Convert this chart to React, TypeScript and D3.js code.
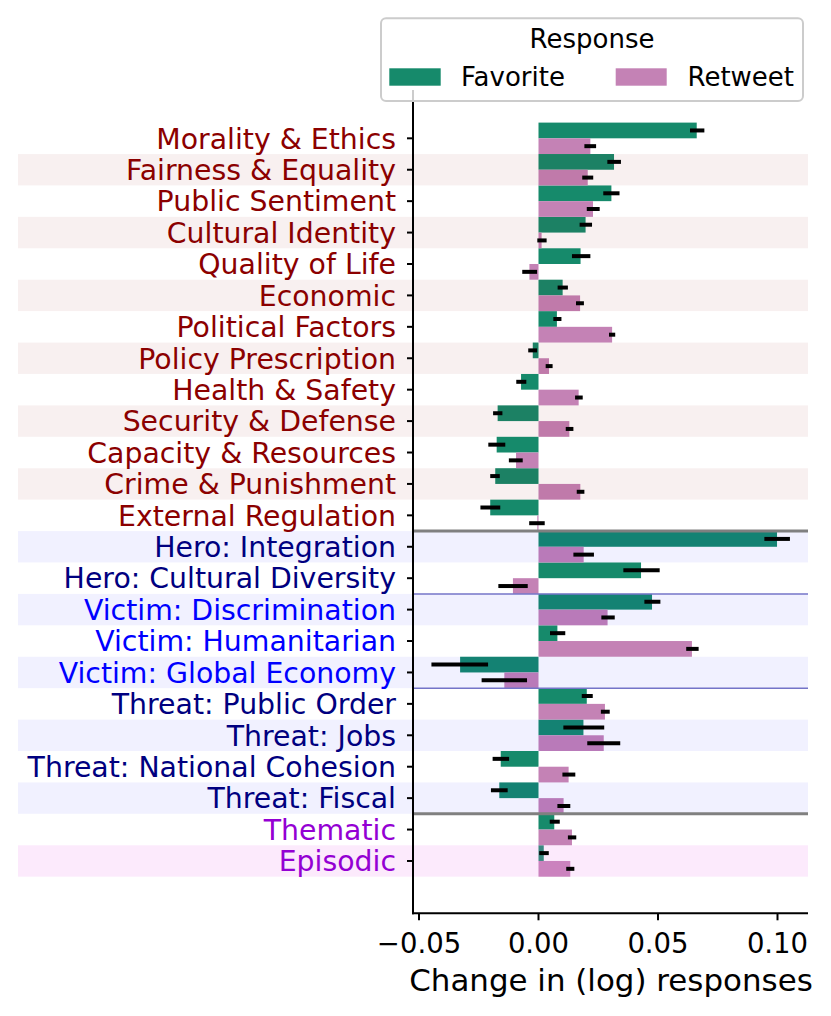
import React from "react";
import * as d3 from "d3";

const categories = [
  "Morality & Ethics", "Fairness & Equality", "Public Sentiment", "Cultural Identity",
  "Quality of Life", "Economic", "Political Factors", "Policy Prescription",
  "Health & Safety", "Security & Defense", "Capacity & Resources", "Crime & Punishment",
  "External Regulation", "Hero: Integration", "Hero: Cultural Diversity",
  "Victim: Discrimination", "Victim: Humanitarian", "Victim: Global Economy",
  "Threat: Public Order", "Threat: Jobs", "Threat: National Cohesion", "Threat: Fiscal",
  "Thematic", "Episodic",
];
const groups = [
  "frame", "frame", "frame", "frame", "frame", "frame", "frame", "frame", "frame", "frame",
  "frame", "frame", "frame", "hero", "hero", "victim", "victim", "victim",
  "threat", "threat", "threat", "threat", "episodic", "episodic",
];
const series = ["Favorite", "Retweet"];

const favorite = [0.0662, 0.0316, 0.0305, 0.0197, 0.0176, 0.0101, 0.0077, -0.0024, -0.0073, -0.0171, -0.0175, -0.0181, -0.0202,
  0.0998, 0.0429, 0.0475, 0.0079, -0.0328, 0.0202, 0.0188, -0.0158, -0.0164, 0.0066, 0.0022];
const favoriteLo = [0.0634, 0.0288, 0.0271, 0.0172, 0.014, 0.008, 0.0062, -0.0043, -0.0093, -0.019, -0.021, -0.0202, -0.0243,
  0.0945, 0.0355, 0.0443, 0.0048, -0.0448, 0.0181, 0.0104, -0.0192, -0.0199, 0.0047, 0.0003];
const favoriteHi = [0.0694, 0.0345, 0.0339, 0.0224, 0.0217, 0.0123, 0.0096, -0.0006, -0.0051, -0.0151, -0.0139, -0.0162, -0.016,
  0.1052, 0.0507, 0.051, 0.0112, -0.0211, 0.0227, 0.0275, -0.0123, -0.0129, 0.0089, 0.0043];
const retweet = [0.0217, 0.0206, 0.0228, 0.0013, -0.0038, 0.0174, 0.0308, 0.0044, 0.0168, 0.0129, -0.0094, 0.0175, -0.0005,
  0.0189, -0.0107, 0.0289, 0.0642, -0.0143, 0.0278, 0.0273, 0.0126, 0.0105, 0.014, 0.0133];
const retweetLo = [0.0192, 0.0183, 0.0202, -0.0005, -0.0068, 0.0157, 0.0295, 0.003, 0.0153, 0.0114, -0.0124, 0.016, -0.0039,
  0.0146, -0.0168, 0.0263, 0.0618, -0.0238, 0.0261, 0.0204, 0.01, 0.0079, 0.0123, 0.0116];
const retweetHi = [0.0241, 0.0229, 0.0256, 0.0034, -0.0006, 0.019, 0.0321, 0.0059, 0.0185, 0.0146, -0.0066, 0.0192, 0.0026,
  0.0232, -0.0045, 0.0319, 0.067, -0.0048, 0.0298, 0.0342, 0.0154, 0.0133, 0.0158, 0.015];
const xTicks = [-0.05, 0, 0.05, 0.1];

const W = 831, H = 1016;
const FONT = "DejaVu Sans";
const plotLeft = 413, plotRight = 808, plotTop = 90, plotBottom = 913.3;
const bandTop = 122.6, rowH = 31.42;
const pxPerUnit = 2390, zeroX = 538.5;

const labelColor: Record<string, string> = {
  frame: "#8b0000", hero: "#000080", victim: "#0000ff", threat: "#000080", episodic: "#9400d3",
};
const bandColor: Record<string, [string, number]> = {
  frame: ["#8b0000", 0.06], hero: ["#0000ff", 0.055], victim: ["#0000ff", 0.055],
  threat: ["#0000ff", 0.055], episodic: ["#ee82ee", 0.17],
};
const seriesColor = ["#168a6b", "#c482b5"];

export default function App() {
  const x = d3.scaleLinear()
    .domain([(plotLeft - zeroX) / pxPerUnit, (plotRight - zeroX) / pxPerUnit])
    .range([plotLeft, plotRight]);
  const y = d3.scaleBand<string>().domain(categories).range([bandTop, bandTop + rowH * categories.length]).padding(0);
  const inner = d3.scaleBand<string>().domain(series).range([0, y.bandwidth()]).padding(0);

  const vals = [favorite, retweet];
  const los = [favoriteLo, retweetLo];
  const his = [favoriteHi, retweetHi];

  const fmt = d3.format(".2f");
  const boundary = (i: number) => (y(categories[i]) as number);

  return (
    <svg width={W} height={H} style={{ position: "absolute", left: 0, top: 0, background: "#fff" }}
      fontFamily={FONT}>
      {/* bars */}
      {series.map((s, si) =>
        categories.map((c, i) => {
          const v = vals[si][i];
          const y0 = (y(c) as number) + (inner(s) as number);
          return (
            <rect key={s + c} x={Math.min(x(0), x(v))} y={y0} width={Math.abs(x(v) - x(0))}
              height={inner.bandwidth()} fill={seriesColor[si]} />
          );
        })
      )}
      {/* shaded bands (drawn over bars, translucent) */}
      {categories.map((c, i) =>
        i % 2 === 1 ? (
          <rect key={"band" + c} x={18} y={y(c)} width={plotRight - 18} height={y.bandwidth()}
            fill={bandColor[groups[i]][0]} fillOpacity={bandColor[groups[i]][1]} />
        ) : null
      )}
      {/* error bars */}
      {series.map((s, si) =>
        categories.map((c, i) => {
          const yc = (y(c) as number) + (inner(s) as number) + inner.bandwidth() / 2;
          return (
            <line key={"err" + s + c} x1={x(los[si][i])} x2={x(his[si][i])} y1={yc} y2={yc}
              stroke="#000" strokeWidth={4} />
          );
        })
      )}
      {/* group separators */}
      <line x1={plotLeft} x2={plotRight} y1={boundary(13)} y2={boundary(13)} stroke="#808080" strokeWidth={3} />
      <line x1={plotLeft} x2={plotRight} y1={boundary(22)} y2={boundary(22)} stroke="#808080" strokeWidth={3} />
      <line x1={plotLeft} x2={plotRight} y1={boundary(15)} y2={boundary(15)} stroke="#7474c8" strokeWidth={1.5} />
      <line x1={plotLeft} x2={plotRight} y1={boundary(18)} y2={boundary(18)} stroke="#7474c8" strokeWidth={1.5} />

      {/* y axis */}
      <line x1={plotLeft} x2={plotLeft} y1={plotTop} y2={plotBottom + 1} stroke="#000" strokeWidth={2} />
      {categories.map((c, i) => {
        const yc = (y(c) as number) + y.bandwidth() / 2;
        return (
          <g key={"yt" + c}>
            <line x1={plotLeft - 6} x2={plotLeft} y1={yc} y2={yc} stroke="#000" strokeWidth={2} />
            <text x={396} y={yc + 10.3} textAnchor="end" fontSize={28.35} fill={labelColor[groups[i]]}>{c}</text>
          </g>
        );
      })}
      {/* x axis */}
      <line x1={plotLeft - 1} x2={plotRight} y1={plotBottom} y2={plotBottom} stroke="#000" strokeWidth={2} />
      {xTicks.map((t) => (
        <g key={"xt" + t}>
          <line x1={x(t)} x2={x(t)} y1={plotBottom} y2={plotBottom + 7} stroke="#000" strokeWidth={2} />
          <text x={x(t)} y={953} textAnchor="middle" fontSize={27.5} fill="#000">{fmt(t)}</text>
        </g>
      ))}
      <text x={(410 + 812) / 2} y={991} textAnchor="middle" fontSize={30.9} fill="#000">Change in (log) responses</text>

      {/* legend */}
      <rect x={381} y={18.3} width={422} height={82.7} rx={5} fill="#fff" fillOpacity={0.8}
        stroke="#cccccc" strokeWidth={2} />
      <text x={592} y={48.3} textAnchor="middle" fontSize={26} fill="#000">Response</text>
      <rect x={389.3} y={68.3} width={51.4} height={17.4} fill={seriesColor[0]} />
      <text x={461} y={85.7} fontSize={26} fill="#000">{series[0]}</text>
      <rect x={615.7} y={68.3} width={51} height={17.4} fill={seriesColor[1]} />
      <text x={687.5} y={85.7} fontSize={26} fill="#000">{series[1]}</text>
    </svg>
  );
}
